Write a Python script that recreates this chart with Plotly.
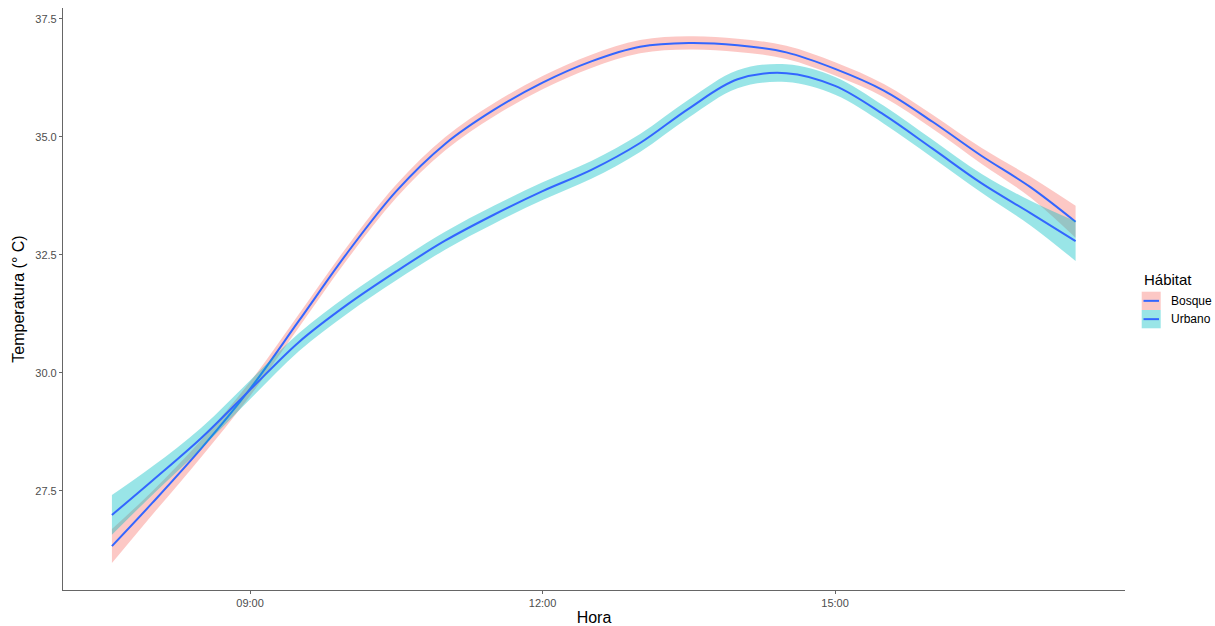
import plotly.graph_objects as go

# ---- data ----
hours = ["07:35", "08:00", "08:30", "09:00", "09:30", "10:00", "10:30", "11:00",
         "11:30", "12:00", "12:30", "13:00", "13:30", "14:00", "14:30", "15:00",
         "15:30", "16:00", "16:30", "17:00", "17:28"]
bosque_mean = [26.33, 27.25, 28.40, 29.66, 31.10, 32.55, 33.85, 34.85, 35.57, 36.15,
               36.60, 36.91, 36.99, 36.94, 36.79, 36.44, 35.98, 35.32, 34.60, 33.94, 33.20]
bosque_hw = [0.36, 0.25, 0.18, 0.15, 0.14, 0.14, 0.14, 0.14, 0.14, 0.14,
             0.14, 0.14, 0.14, 0.14, 0.14, 0.14, 0.14, 0.15, 0.17, 0.22, 0.34]
urbano_mean = [26.99, 27.72, 28.62, 29.64, 30.65, 31.45, 32.15, 32.80, 33.35, 33.85,
               34.30, 34.87, 35.60, 36.22, 36.35, 36.08, 35.47, 34.75, 34.02, 33.39, 32.79]
urbano_hw = [0.42, 0.30, 0.22, 0.20, 0.19, 0.19, 0.19, 0.19, 0.19, 0.19,
             0.19, 0.19, 0.19, 0.19, 0.19, 0.19, 0.19, 0.19, 0.20, 0.26, 0.42]
groups = ["Bosque", "Urbano"]
group_fill = ["rgba(248,118,109,0.4)", "rgba(0,191,196,0.4)"]
x_tick_labels = ["09:00", "12:00", "15:00"]
y_tick_values = [27.5, 30.0, 32.5, 35.0, 37.5]

DAY = "2024-01-01 "
x = [DAY + h for h in hours]
LINE_BLUE = "#3366FF"
FONT = "Liberation Sans, Arial, sans-serif"

fig = go.Figure()


def add_group(name, mean, hw, fillcolor):
    lo = [m - h for m, h in zip(mean, hw)]
    hi = [m + h for m, h in zip(mean, hw)]
    fig.add_trace(go.Scatter(x=x, y=lo, mode="lines",
                             line=dict(width=0, shape="spline", color=fillcolor),
                             showlegend=False, hoverinfo="skip"))
    fig.add_trace(go.Scatter(x=x, y=mean, mode="lines", name=name, showlegend=False,
                             line=dict(color=LINE_BLUE, width=2, shape="spline"),
                             fill="tonexty", fillcolor=fillcolor))
    fig.add_trace(go.Scatter(x=x, y=hi, mode="lines",
                             line=dict(width=0, shape="spline", color=fillcolor),
                             fill="tonexty", fillcolor=fillcolor,
                             showlegend=False, hoverinfo="skip"))


add_group(groups[0], bosque_mean, bosque_hw, group_fill[0])
add_group(groups[1], urbano_mean, urbano_hw, group_fill[1])

# ---- layout geometry (pixels) ----
W, H = 1215, 626
ML, MR, MT, MB = 63, 90, 8, 36
PW, PH = W - ML - MR, H - MT - MB


def px(X):
    return (X - ML) / PW


def py(Y):
    return (H - MB - Y) / PH


axis_common = dict(showgrid=False, zeroline=False, showline=True, linecolor="#666666",
                   linewidth=1.2, ticks="outside", ticklen=3, tickcolor="#666666",
                   automargin=False,
                   tickfont=dict(family=FONT, size=11, color="#4D4D4D"),
                   title_font=dict(family=FONT, size=16, color="#000000"))

# ---- ggplot-style legend (fill key with line) ----
shapes = []
annotations = [dict(text="Hábitat", xref="paper", yref="paper", x=px(1142), y=py(279),
                    xanchor="left", yanchor="middle", showarrow=False,
                    font=dict(family=FONT, size=15, color="#000000"))]
key_top = 291.7
key_h = 18.3
for i, (g, fc) in enumerate(zip(groups, group_fill)):
    y0 = key_top + i * key_h
    y1 = y0 + key_h
    yc = (y0 + y1) / 2
    shapes.append(dict(type="rect", xref="paper", yref="paper",
                       x0=px(1141.7), x1=px(1160.7), y0=py(y1), y1=py(y0),
                       fillcolor=fc, line=dict(width=0), layer="above"))
    shapes.append(dict(type="line", xref="paper", yref="paper",
                       x0=px(1143.5), x1=px(1159), y0=py(yc), y1=py(yc),
                       line=dict(color=LINE_BLUE, width=2), layer="above"))
    annotations.append(dict(text=g, xref="paper", yref="paper", x=px(1168.5), y=py(yc),
                            xanchor="left", yanchor="middle", showarrow=False,
                            font=dict(family=FONT, size=12, color="#000000")))

fig.update_layout(
    width=W, height=H,
    paper_bgcolor="white", plot_bgcolor="white",
    margin=dict(l=ML, r=MR, t=MT, b=MB, autoexpand=False),
    font=dict(family=FONT),
    showlegend=False,
    xaxis=dict(type="date", range=[DAY + "07:04:54", DAY + "17:58:24"],
               tickvals=[DAY + t for t in x_tick_labels], ticktext=x_tick_labels,
               title=dict(text="Hora", standoff=4), **axis_common),
    yaxis=dict(range=[25.40, 37.73], tickvals=y_tick_values,
               ticktext=[f"{v:.1f}" for v in y_tick_values],
               title=dict(text="Temperatura (° C)", standoff=6), **axis_common),
    shapes=shapes,
    annotations=annotations,
)

fig.write_html("out.html",
               config={"displayModeBar": False},
               post_script="document.body.style.margin='0';document.body.style.overflow='hidden';")
